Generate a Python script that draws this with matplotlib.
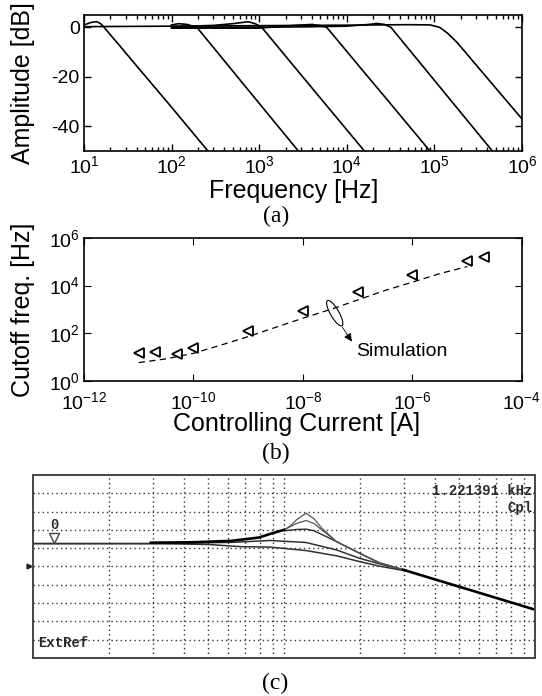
import matplotlib
matplotlib.use('Agg')
import matplotlib.pyplot as plt
from matplotlib.patches import Ellipse
from matplotlib.transforms import ScaledTranslation
from matplotlib.ticker import LogLocator, NullFormatter, NullLocator

plt.rcParams['font.family'] = ['Liberation Sans', 'DejaVu Sans']
plt.rcParams['mathtext.fontset'] = 'custom'
plt.rcParams['mathtext.rm'] = 'Liberation Sans'
plt.rcParams['mathtext.it'] = 'Liberation Sans:italic'
plt.rcParams['mathtext.bf'] = 'Liberation Sans:bold'

# ---- (a) measured low-pass responses, frequency [Hz] / amplitude [dB]
f_c1 = [10, 12, 14, 15.5, 17, 20, 25, 38, 60, 100, 260]
db_c1 = [1.0, 2.0, 2.3, 1.5, 0.0, -3.0, -7.0, -14.7, -23.0, -32.3, -50]
f_c2 = [100, 120, 150, 175, 195, 220, 300, 550, 1000, 2800]
db_c2 = [1.0, 1.5, 1.2, 0.5, 0.0, -2.3, -8.1, -19.5, -30.7, -50]
f_c3 = [100, 300, 500, 750, 900, 1070, 1300, 2400, 5000, 15900]
db_c3 = [0.3, 0.8, 1.5, 2.3, 1.5, 0.0, -3.6, -15.0, -28.6, -50]
f_c4 = [100, 1000, 2500, 4000, 5200, 5900, 7000, 15500, 30000, 89000]
db_c4 = [-0.3, -0.3, 0.8, 1.2, 0.6, 0.0, -3.1, -17.8, -29.9, -50]
f_c5 = [100, 3000, 10000, 18000, 22000, 27000, 32000, 40000, 89000, 200000, 460000]
db_c5 = [0.0, 0.2, 0.5, 1.2, 1.6, 1.2, 0.0, -4.2, -19.2, -34.4, -50]
f_c6 = [10, 100, 1000, 10000, 50000, 90000, 115000, 140000, 182000, 310000, 1000000]
db_c6 = [0.3, 0.5, 0.7, 0.9, 1.1, 1.0, 0.0, -2.2, -6.1, -15.8, -37]
freq_ticks = [1e1, 1e2, 1e3, 1e4, 1e5, 1e6]
freq_labels = ['$10^{1}$', '$10^{2}$', '$10^{3}$', '$10^{4}$', '$10^{5}$', '$10^{6}$']
amp_ticks = [0, -20, -40]
amp_labels = ['0', '-20', '-40']

# ---- (b) cutoff frequency vs controlling current
meas_i = [1e-11, 2e-11, 5e-11, 1e-10, 1e-9, 1e-8, 1e-7, 1e-6, 1e-5, 2e-5]
meas_f = [15, 16, 14, 25, 130, 900, 5500, 29000, 107000, 163000]
sim_i = [1e-11, 3.16e-11, 1e-10, 3.16e-10, 1e-9, 3.16e-9, 1e-8, 3.16e-8,
         1e-7, 3.16e-7, 1e-6, 3.16e-6, 1e-5]
sim_f = [5.9, 8.5, 14.5, 32, 73, 178, 430, 1000, 2500, 6300, 14000, 32000, 63000]
cur_ticks = [1e-12, 1e-10, 1e-8, 1e-6, 1e-4]
cur_labels = ['$10^{-12}$', '$10^{-10}$', '$10^{-8}$', '$10^{-6}$', '$10^{-4}$']
cut_ticks = [1, 1e2, 1e4, 1e6]
cut_labels = ['$10^{0}$', '$10^{2}$', '$10^{4}$', '$10^{6}$']

# ---- (c) analyzer screen traces, frequency [Hz] / screen divisions
rise_f = [295, 427, 617, 794, 891, 1000]
rise_d = [6.3, 6.32, 6.4, 6.58, 6.8, 7.0]
tail_f = [2985, 3981, 5495, 7413, 10000]
tail_d = [4.82, 4.3, 3.72, 3.18, 2.64]
fa = [1000, 1057, 1122, 1224, 1318, 1413, 1622, 1995, 2399, 2985]
da = [7.0, 7.2, 7.55, 7.91, 7.6, 7.1, 6.35, 5.73, 5.2, 4.82]
fb = [1000, 1122, 1224, 1318, 1413, 1622, 1995, 2399, 2985]
db_ = [7.0, 7.35, 7.51, 7.35, 7.0, 6.35, 5.73, 5.2, 4.82]
fc = [1000, 1122, 1224, 1318, 1413, 1622, 1995, 2399, 2985]
dc = [6.95, 7.02, 7.04, 6.95, 6.75, 6.35, 5.73, 5.2, 4.82]
fd = [100, 316, 631, 879, 1224, 1622, 1995, 2399, 2985]
dd = [6.25, 6.25, 6.32, 6.42, 6.31, 5.9, 5.45, 5.15, 4.82]
fe = [100, 316, 501, 676, 879, 1224, 1622, 1995, 2399, 2985]
de = [6.25, 6.25, 6.2, 6.08, 6.06, 5.87, 5.58, 5.27, 5.02, 4.78]
grid_f = [200, 300, 400, 500, 600, 700, 800, 900, 1000,
          2000, 3000, 4000, 5000, 6000, 7000, 8000, 9000]
grid_d = [1, 2, 3, 4, 5, 6, 7, 8, 9]

fig = plt.figure(figsize=(5.42, 6.96), dpi=100)

# (a)
ax1 = fig.add_axes([0.155, 0.783, 0.808, 0.1954])
for f, d in [(f_c6, db_c6), (f_c1, db_c1), (f_c2, db_c2), (f_c3, db_c3),
             (f_c4, db_c4), (f_c5, db_c5)]:
    ax1.plot(f, d, color='k', lw=1.2)
ax1.set_xscale('log')
ax1.set_xlim(10, 1e6)
ax1.set_ylim(-50, 5)
ax1.set_xticks(freq_ticks, freq_labels)
ax1.set_yticks(amp_ticks, amp_labels)
ax1.xaxis.set_minor_locator(LogLocator(subs=range(2, 10)))
ax1.xaxis.set_minor_formatter(NullFormatter())
ax1.tick_params(which='both', direction='in', top=True, right=True, labelsize=14, width=1)
ax1.tick_params(which='major', length=5, pad=3)
ax1.tick_params(which='minor', length=3)
for s in ax1.spines.values():
    s.set_linewidth(1.2)

# (b)
ax2 = fig.add_axes([0.155, 0.4526, 0.808, 0.2055])
ax2.plot(sim_i, sim_f, color='k', lw=0.9, dashes=(5, 3.5))
ax2.plot(meas_i, meas_f, ls='none', marker='<', mfc='none', mec='k', ms=7, mew=1.3)
ell_tr = fig.dpi_scale_trans + ScaledTranslation(3.8e-8, 700, ax2.transData)
ax2.add_patch(Ellipse((0, 0), 0.29, 0.085, angle=-60, fill=False, ec='k', lw=0.8,
                      transform=ell_tr, clip_on=False))
ax2.annotate('', xy=(7.8e-8, 45), xytext=(5.25e-8, 182),
             arrowprops=dict(arrowstyle='-|>', color='k', lw=0.6, mutation_scale=12,
                             shrinkA=0, shrinkB=0))
ax2.text(9.5e-8, 17, 'Simulation', fontsize=14, va='center', ha='left')
ax2.set_xscale('log')
ax2.set_yscale('log')
ax2.set_xlim(1e-12, 1e-4)
ax2.set_ylim(1, 1e6)
ax2.set_xticks(cur_ticks, cur_labels)
ax2.set_yticks(cut_ticks, cut_labels)
ax2.xaxis.set_minor_locator(NullLocator())
ax2.yaxis.set_minor_locator(NullLocator())
ax2.tick_params(direction='in', top=True, right=True, labelsize=14, length=5, pad=3)
ax2.tick_params(axis='x', pad=7)
for s in ax2.spines.values():
    s.set_linewidth(1.2)

# (c)
ax3 = fig.add_axes([0.0609, 0.0546, 0.9262, 0.263])
ax3.set_xscale('log')
ax3.set_xlim(100, 10000)
ax3.set_ylim(0, 10)
ax3.set_xticks(grid_f)
ax3.set_yticks(grid_d)
ax3.xaxis.set_minor_locator(NullLocator())
ax3.tick_params(length=0, labelbottom=False, labelleft=False)
ax3.grid(True, color='#333333', lw=1.0, linestyle=(0, (1, 2.3)))
ax3.plot(fd, dd, color='#303030', lw=1.1)
ax3.plot(fe, de, color='#303030', lw=1.1)
ax3.plot(fc, dc, color='#2a2a2a', lw=1.0)
ax3.plot(fb, db_, color='#555555', lw=0.9)
ax3.plot(fa, da, color='#555555', lw=0.9)
ax3.plot(rise_f, rise_d, color='k', lw=1.9)
ax3.plot(tail_f, tail_d, color='k', lw=1.9)
ax3.plot([121.6], [6.56], marker='v', mfc='none', mec='#444444', ms=7, mew=1)
mono = dict(family='Liberation Mono', fontsize=10, color='#2a2a2a', weight='bold')
ax3.text(121.6, 7.27, '0', ha='center', va='center', **mono)
ax3.text(0.995, 0.915, '1.221391 kHz', transform=ax3.transAxes, ha='right', va='center', **mono)
ax3.text(0.995, 0.82, 'Cpl', transform=ax3.transAxes, ha='right', va='center', **mono)
ax3.text(0.01, 0.083, 'ExtRef', transform=ax3.transAxes, ha='left', va='center', **mono)
ax3.plot([-0.008], [0.5], marker='>', color='#222222', ms=3.5,
         transform=ax3.transAxes, clip_on=False)
for s in ax3.spines.values():
    s.set_linewidth(1.4)
    s.set_color('#444444')

# labels
lab = dict(fontsize=18, ha='center', va='center')
fig.text(23 / 542, 1 - 83 / 696, 'Amplitude [dB]', rotation=90, **lab)
fig.text(23 / 542, 1 - 309.5 / 696, 'Cutoff freq. [Hz]', rotation=90, **lab)
fig.text(294 / 542, 1 - 191 / 696, 'Frequency [Hz]', **lab)
fig.text(297 / 542, 1 - 424 / 696, 'Controlling Current [A]', **lab)
cap = dict(family='Liberation Serif', fontsize=17, ha='center', va='center')
fig.text(276 / 542, 1 - 216 / 696, '(a)', **cap)
fig.text(276 / 542, 1 - 453 / 696, '(b)', **cap)
fig.text(275 / 542, 1 - 683 / 696, '(c)', **cap)

fig.savefig('out.png', dpi=100)
